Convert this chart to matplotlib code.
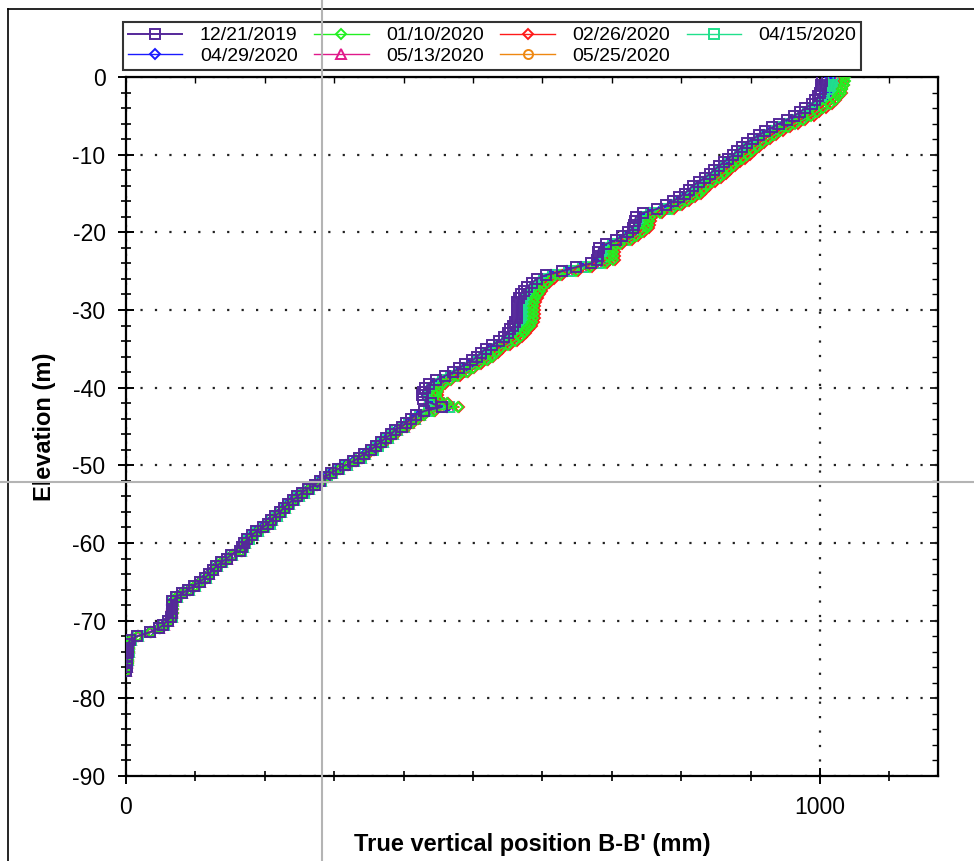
import matplotlib
matplotlib.use("Agg")
import matplotlib.pyplot as plt
import numpy as np
from matplotlib.lines import Line2D
from matplotlib.ticker import MultipleLocator, FixedLocator

plt.rcParams['font.family'] = ['Liberation Sans', 'DejaVu Sans']
plt.rcParams['axes.unicode_minus'] = False

# reading depths, every 0.5 m from the collar down
elev = np.arange(0, -77, -0.5)

# 12/21/2019 baseline profile (mm)
base = [
    1003, 1003, 1002, 1001, 1000, 997, 993, 988, 979, 971,
    963, 952, 941, 931, 921, 912, 903, 895, 888, 881,
    875, 868, 861, 854, 847, 841, 834, 825, 817, 811,
    805, 797, 788, 778, 765, 745, 735, 733, 732, 730,
    724, 715, 706, 692, 682, 680, 680, 679, 670, 648,
    628, 605, 592, 585, 578, 573, 569, 566, 564, 563,
    563, 563, 563, 561, 558, 554, 550, 545, 538, 528,
    518, 512, 506, 499, 488, 480, 471, 459, 447, 437,
    431, 428, 427, 428, 440, 455, 430, 418, 411, 404,
    397, 387, 382, 374, 367, 360, 353, 343, 336, 327,
    316, 305, 295, 287, 279, 272, 262, 254, 247, 240,
    233, 227, 222, 215, 209, 205, 197, 188, 181, 175,
    170, 167, 164, 152, 145, 137, 130, 125, 119, 114,
    106, 98, 90, 80, 72, 67, 66, 66, 66, 65,
    60, 54, 47, 34, 16, 6, 3, 3, 3, 2,
    2, 2, 1, 0,
]

# later readings, as shift from the baseline (mm)
shift_0110 = [
    33, 33, 32, 31, 30, 29, 28, 27, 26, 25,
    24, 24, 23, 23, 22, 22, 22, 21, 21, 21,
    20, 20, 20, 20, 20, 20, 20, 20, 20, 20,
    20, 20, 20, 20, 22, 24, 20, 20, 20, 20,
    20, 20, 20, 20, 20, 21, 22, 22, 20, 20,
    20, 20, 21, 22, 22, 23, 24, 24, 24, 24,
    24, 24, 24, 24, 24, 23, 23, 22, 22, 22,
    21, 21, 21, 21, 20, 20, 20, 20, 20, 20,
    20, 20, 20, 21, 22, 23, 14, 11, 9, 8,
    7, 7, 6, 6, 5, 5, 5, 4, 4, 4,
    4, 4, 4, 4, 3, 3, 3, 3, 3, 3,
    3, 3, 3, 3, 3, 3, 3, 3, 3, 3,
    3, 3, 3, 2, 2, 2, 2, 2, 2, 2,
    2, 2, 2, 2, 2, 2, 2, 2, 2, 2,
    2, 2, 2, 2, 2, 1, 1, 1, 1, 1,
    1, 1, 1, 0,
]
shift_0226 = [
    32, 32, 32, 31, 31, 30, 30, 29, 29, 28,
    28, 27, 27, 26, 26, 25, 25, 25, 24, 24,
    24, 24, 23, 23, 23, 23, 23, 23, 23, 23,
    23, 23, 23, 23, 25, 27, 23, 23, 23, 23,
    23, 23, 23, 23, 23, 24, 25, 25, 23, 23,
    23, 23, 24, 25, 25, 26, 27, 27, 27, 27,
    27, 27, 27, 27, 27, 26, 26, 25, 25, 25,
    24, 24, 23, 23, 23, 22, 22, 22, 22, 22,
    22, 22, 22, 23, 24, 25, 15, 12, 10, 9,
    8, 7, 7, 6, 6, 5, 5, 5, 4, 4,
    4, 4, 4, 4, 3, 3, 3, 3, 3, 3,
    3, 3, 3, 3, 3, 3, 3, 3, 3, 3,
    3, 3, 3, 2, 2, 2, 2, 2, 2, 2,
    2, 2, 2, 2, 2, 2, 2, 2, 2, 2,
    2, 2, 2, 2, 2, 1, 1, 1, 1, 1,
    1, 1, 1, 0,
]
shift_0415 = [
    16, 16, 15, 15, 14, 14, 13, 13, 12, 12,
    12, 11, 11, 11, 10, 10, 10, 10, 10, 10,
    10, 10, 10, 10, 10, 10, 10, 10, 10, 10,
    10, 10, 10, 10, 11, 12, 10, 10, 10, 10,
    10, 10, 10, 10, 10, 10, 11, 11, 10, 10,
    10, 10, 10, 11, 11, 12, 12, 12, 12, 12,
    12, 12, 12, 12, 12, 11, 11, 11, 11, 11,
    10, 10, 10, 10, 10, 10, 10, 10, 10, 10,
    10, 10, 10, 10, 11, 11, 7, 6, 5, 4,
    4, 4, 3, 3, 3, 3, 3, 2, 2, 2,
    2, 2, 2, 2, 2, 2, 2, 2, 2, 2,
    2, 2, 2, 2, 2, 2, 2, 2, 2, 2,
    2, 2, 2, 1, 1, 1, 1, 1, 1, 1,
    1, 1, 1, 1, 1, 1, 1, 1, 1, 1,
    1, 1, 1, 1, 1, 1, 1, 1, 1, 1,
    1, 0, 0, 0,
]
shift_0429 = [
    12, 12, 11, 11, 10, 10, 10, 9, 9, 9,
    9, 8, 8, 8, 8, 7, 7, 7, 7, 7,
    7, 7, 7, 7, 7, 7, 7, 7, 7, 7,
    7, 7, 7, 7, 8, 8, 7, 7, 7, 7,
    7, 7, 7, 7, 7, 7, 8, 8, 7, 7,
    7, 7, 7, 8, 8, 8, 8, 8, 8, 8,
    8, 8, 8, 8, 8, 8, 8, 8, 8, 8,
    7, 7, 7, 7, 7, 7, 7, 7, 7, 7,
    7, 7, 7, 7, 8, 8, 5, 4, 4, 3,
    3, 3, 2, 2, 2, 2, 2, 2, 2, 2,
    1, 1, 1, 1, 1, 1, 1, 1, 1, 1,
    1, 1, 1, 1, 1, 1, 1, 1, 1, 1,
    1, 1, 1, 1, 1, 1, 1, 1, 1, 1,
    1, 1, 1, 1, 1, 1, 1, 1, 1, 1,
    1, 1, 1, 1, 1, 1, 1, 1, 1, 1,
    1, 0, 0, 0,
]
shift_0513 = [
    14, 14, 13, 13, 12, 12, 12, 11, 11, 11,
    11, 10, 10, 10, 9, 9, 9, 9, 9, 9,
    9, 9, 9, 9, 9, 9, 9, 9, 9, 9,
    9, 9, 9, 9, 10, 11, 9, 9, 9, 9,
    9, 9, 9, 9, 9, 9, 10, 10, 9, 9,
    9, 9, 9, 10, 10, 11, 11, 11, 11, 11,
    11, 11, 11, 11, 11, 10, 10, 10, 10, 10,
    9, 9, 9, 9, 9, 9, 9, 9, 9, 9,
    9, 9, 9, 9, 10, 10, 6, 5, 5, 4,
    4, 3, 3, 3, 3, 2, 2, 2, 2, 2,
    2, 2, 2, 2, 2, 2, 2, 2, 2, 2,
    2, 2, 2, 2, 2, 2, 2, 2, 2, 2,
    1, 1, 1, 1, 1, 1, 1, 1, 1, 1,
    1, 1, 1, 1, 1, 1, 1, 1, 1, 1,
    1, 1, 1, 1, 1, 1, 1, 1, 1, 1,
    1, 0, 0, 0,
]
shift_0525 = [
    18, 18, 17, 17, 16, 16, 15, 15, 14, 14,
    14, 13, 13, 13, 12, 12, 12, 12, 12, 12,
    12, 12, 12, 12, 12, 12, 12, 12, 12, 12,
    12, 12, 12, 12, 13, 14, 12, 12, 12, 12,
    12, 12, 12, 12, 12, 12, 13, 13, 12, 12,
    12, 12, 12, 13, 13, 14, 14, 14, 14, 14,
    14, 14, 14, 14, 14, 13, 13, 13, 13, 13,
    12, 12, 12, 12, 12, 12, 12, 12, 12, 12,
    12, 12, 12, 12, 13, 13, 8, 7, 6, 5,
    5, 4, 4, 4, 3, 3, 3, 3, 3, 3,
    2, 2, 2, 2, 2, 2, 2, 2, 2, 2,
    2, 2, 2, 2, 2, 2, 2, 2, 2, 2,
    1, 1, 1, 1, 1, 1, 1, 1, 1, 1,
    1, 1, 1, 1, 1, 1, 1, 1, 1, 1,
    1, 1, 1, 1, 1, 1, 1, 1, 1, 1,
    1, 0, 0, 0,
]

dates = ['12/21/2019', '01/10/2020', '02/26/2020', '04/15/2020',
         '04/29/2020', '05/13/2020', '05/25/2020']
shifts = [[0] * len(base), shift_0110, shift_0226, shift_0415,
          shift_0429, shift_0513, shift_0525]
colors = ['#55289a', '#22f022', '#ff1a1a', '#20e08c',
          '#1a1aff', '#e0198a', '#ee8811']
markers = ['s', 'D', 'D', 's', 'D', '^', 'o']
msizes = [7.5, 5.5, 5.5, 7.0, 5.5, 6.5, 6.5]

fig = plt.figure(figsize=(9.74, 8.61), dpi=100)
ax = fig.add_axes([126 / 974, 1 - 776 / 861, 812 / 974, 699 / 861])

base_arr = np.array(base, dtype=float)
handles = [None] * len(dates)
# draw the oldest survey last so it sits on top
for i in reversed(range(len(dates))):
    vals = base_arr + np.array(shifts[i], dtype=float)
    lw = 1.4 if i == 0 else 1.0
    h, = ax.plot(vals, elev, color=colors[i], marker=markers[i],
                 ms=msizes[i], mfc='none', mec=colors[i], mew=1.4,
                 lw=lw, label=dates[i], zorder=3 + (len(dates) - i))
    handles[i] = h

ax.set_xlim(0, 1170)
ax.set_ylim(-90, 0)
ax.xaxis.set_major_locator(FixedLocator([0, 1000]))
ax.xaxis.set_minor_locator(MultipleLocator(100))
ax.yaxis.set_major_locator(MultipleLocator(10))
ax.yaxis.set_minor_locator(MultipleLocator(2))

ax.tick_params(which='major', direction='inout', length=11.5, width=1.4,
               labelsize=16.5, pad=9)
ax.tick_params(which='minor', direction='inout', length=7, width=1.2)

for s in ax.spines.values():
    s.set_linewidth(1.6)

# inward ticks on the top and right edges
top = ax.secondary_xaxis('top')
top.xaxis.set_major_locator(FixedLocator([0, 1000]))
top.xaxis.set_minor_locator(MultipleLocator(100))
top.tick_params(which='major', direction='in', length=6, width=1.2, labeltop=False)
top.tick_params(which='minor', direction='in', length=4, width=1.0)
right = ax.secondary_yaxis('right')
right.yaxis.set_major_locator(MultipleLocator(10))
right.yaxis.set_minor_locator(MultipleLocator(2))
right.tick_params(which='major', direction='in', length=6, width=1.2, labelright=False)
right.tick_params(which='minor', direction='in', length=4, width=1.0)

ax.grid(which='major', color='#222222', linestyle=(0, (1, 5.5)), linewidth=1.6)

ax.set_xlabel("True vertical position B-B' (mm)", fontsize=17,
              fontweight='bold', labelpad=10)
ax.set_ylabel('Elevation (m)', fontsize=17, fontweight='bold', labelpad=12)

# legend fills column by column, so interleave to read across rows
order = [0, 4, 1, 5, 2, 6, 3]
leg = fig.legend([handles[k] for k in order], [dates[k] for k in order],
                 ncol=4, loc='upper left',
                 bbox_to_anchor=(123 / 974, 1 - 22 / 861), fontsize=14,
                 frameon=True, fancybox=False, edgecolor='black',
                 handlelength=2.8, handletextpad=0.9, columnspacing=0.85,
                 borderpad=0.25, labelspacing=0.15, borderaxespad=0)
leg.get_frame().set_linewidth(1.5)

# outer frame of the sheet
fig.add_artist(Line2D([8 / 974, 8 / 974], [0, 1 - 9 / 861], transform=fig.transFigure,
                      color='black', lw=1.2))
fig.add_artist(Line2D([8 / 974, 1], [1 - 9 / 861, 1 - 9 / 861], transform=fig.transFigure,
                      color='black', lw=1.2))

# cursor cross lines
fig.add_artist(Line2D([322 / 974, 322 / 974], [0, 1], transform=fig.transFigure,
                      color='#b4b4b4', lw=1.5, zorder=20))
fig.add_artist(Line2D([0, 1], [1 - 482 / 861, 1 - 482 / 861], transform=fig.transFigure,
                      color='#b4b4b4', lw=1.5, zorder=20))

fig.savefig('out.png', dpi=100)
